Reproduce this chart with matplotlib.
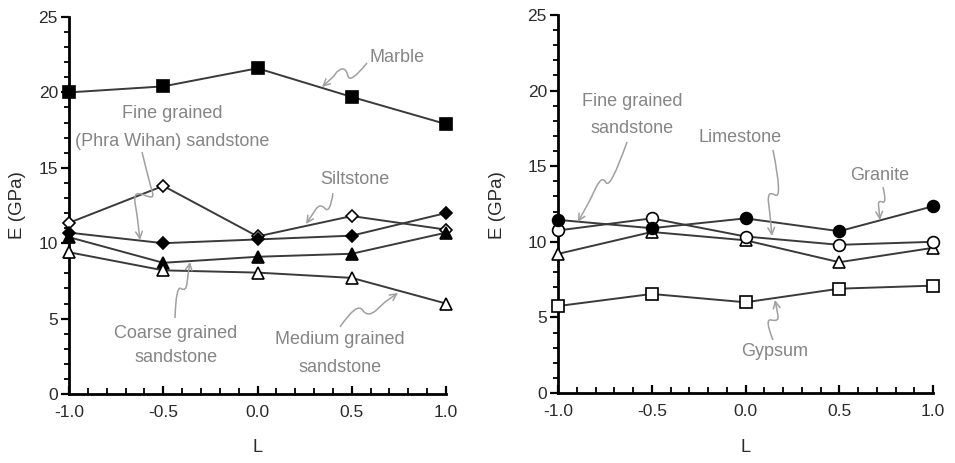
import matplotlib
matplotlib.use("Agg")
import matplotlib.pyplot as plt
from matplotlib.path import Path
from matplotlib.patches import PathPatch, FancyArrowPatch
from matplotlib.ticker import MultipleLocator, FormatStrFormatter

plt.rcParams["font.family"] = ["Liberation Sans", "DejaVu Sans"]

INK = "#2b2b2b"
LINE = "#3a3a3a"
NOTE = "#858585"
ARROW = "#a0a0a0"

L = [-1.0, -0.5, 0.0, 0.5, 1.0]

# left panel
marble = [20.0, 20.4, 21.6, 19.7, 17.9]
siltstone = [11.35, 13.8, 10.45, 11.8, 10.9]
fine_phra = [10.7, 10.0, 10.25, 10.5, 12.0]
coarse_sst = [10.4, 8.7, 9.1, 9.3, 10.7]
medium_sst = [9.4, 8.2, 8.05, 7.7, 6.0]

# right panel
granite = [11.45, 10.9, 11.55, 10.7, 12.35]
limestone = [10.75, 11.55, 10.35, 9.8, 10.0]
fine_sst = [9.2, 10.65, 10.1, 8.65, 9.6]
gypsum = [5.75, 6.55, 6.0, 6.9, 7.1]

W, H = 955, 463
fig = plt.figure(figsize=(W / 100, H / 100), dpi=100)
axl = fig.add_axes([69 / W, 1 - 394 / H, 377 / W, 377 / H])
axr = fig.add_axes([558 / W, 1 - 393 / H, 375 / W, 378 / H])

left_series = [
    (marble, "s", "k", 8.5),
    (siltstone, "D", "w", 6.5),
    (fine_phra, "D", "k", 6.5),
    (coarse_sst, "^", "k", 8.5),
    (medium_sst, "^", "w", 8.5),
]
right_series = [
    (gypsum, "s", "w", 8.5),
    (fine_sst, "^", "w", 8.5),
    (limestone, "o", "w", 8.5),
    (granite, "o", "k", 8.5),
]

for ax, series in ((axl, left_series), (axr, right_series)):
    for vals, mk, fc, ms in series:
        ax.plot(L, vals, color=LINE, lw=1.4, marker=mk, ms=ms,
                markerfacecolor=fc, markeredgecolor="k", markeredgewidth=1.2,
                clip_on=False, zorder=3)
    ax.set_xlim(-1.0, 1.0)
    ax.set_ylim(0, 25)
    ax.xaxis.set_major_locator(MultipleLocator(0.5))
    ax.xaxis.set_minor_locator(MultipleLocator(0.1))
    ax.xaxis.set_major_formatter(FormatStrFormatter("%.1f"))
    ax.yaxis.set_major_locator(MultipleLocator(5))
    ax.yaxis.set_minor_locator(MultipleLocator(1))
    ax.spines[["top", "right"]].set_visible(False)
    ax.spines[["left", "bottom"]].set_linewidth(2.0)
    ax.spines[["left", "bottom"]].set_color("k")
    ax.tick_params(axis="x", which="major", direction="in", length=6, width=1.6,
                   labelsize=12.5, labelcolor=INK, pad=8)
    ax.tick_params(axis="x", which="minor", direction="in", length=4, width=1.3)
    ax.tick_params(axis="y", which="major", direction="out", length=6, width=1.6,
                   labelsize=12.5, labelcolor=INK, pad=2)
    ax.tick_params(axis="y", which="minor", direction="out", length=3.5, width=1.3)
    ax.set_facecolor("none")

for xpix in (18, 497):
    fig.text(xpix / W, 1 - 205 / H, "E (GPa)", rotation=90, ha="center",
             va="center", fontsize=13.5, color=INK)
fig.text(257 / W, 1 - 447 / H, "L", ha="center", va="center", fontsize=13, color=INK)
fig.text(745 / W, 1 - 447 / H, "L", ha="center", va="center", fontsize=13, color=INK)


def fp(p):
    return (p[0] / W, 1 - p[1] / H)


def note(lines, pos, squiggle, dy=27):
    for i, s in enumerate(lines):
        fig.text(*fp((pos[0], pos[1] + i * dy)), s, ha="center", va="center",
                 fontsize=13, color=NOTE)
    pts = [fp(p) for p in squiggle]
    body = pts[:-1]
    # smooth wiggle: quadratic curves through midpoints
    verts, codes = [body[0]], [Path.MOVETO]
    for i in range(1, len(body) - 1):
        mid = ((body[i][0] + body[i + 1][0]) / 2, (body[i][1] + body[i + 1][1]) / 2)
        verts += [body[i], mid]
        codes += [Path.CURVE3, Path.CURVE3]
    verts.append(body[-1])
    codes.append(Path.LINETO)
    fig.add_artist(PathPatch(Path(verts, codes), transform=fig.transFigure,
                             fill=False, edgecolor=ARROW, lw=1.1))
    fig.add_artist(FancyArrowPatch(
        pts[-2], pts[-1], transform=fig.transFigure, arrowstyle="->",
        mutation_scale=12, color=ARROW, lw=1.1, shrinkA=0, shrinkB=0))


note(["Marble"], (397, 58), [(367, 63), (350, 84), (346, 68), (338, 70), (334, 76), (322, 87)])
note(["Fine grained", "(Phra Wihan) sandstone"], (172, 113),
     [(142, 152), (150, 185), (155, 200), (133, 190), (137, 215), (140, 240)], dy=28)
note(["Siltstone"], (355, 179), [(333, 193), (330, 214), (320, 203), (312, 215), (306, 224)])
note(["Coarse grained", "sandstone"], (176, 333),
     [(175, 318), (176, 285), (186, 292), (188, 275), (190, 262)], dy=25)
note(["Medium grained", "sandstone"], (340, 340),
     [(340, 327), (357, 302), (368, 318), (385, 302), (398, 293)], dy=27)

note(["Fine grained", "sandstone"], (632, 101),
     [(627, 142), (610, 190), (602, 175), (590, 200), (578, 222)])
note(["Limestone"], (740, 137), [(773, 150), (783, 200), (767, 190), (770, 215), (772, 236)])
note(["Granite"], (880, 175), [(883, 187), (887, 204), (878, 200), (879, 210), (880, 220)])
note(["Gypsum"], (775, 352), [(773, 340), (764, 318), (779, 322), (777, 310), (775, 300)])

fig.savefig("out.png", dpi=100)
